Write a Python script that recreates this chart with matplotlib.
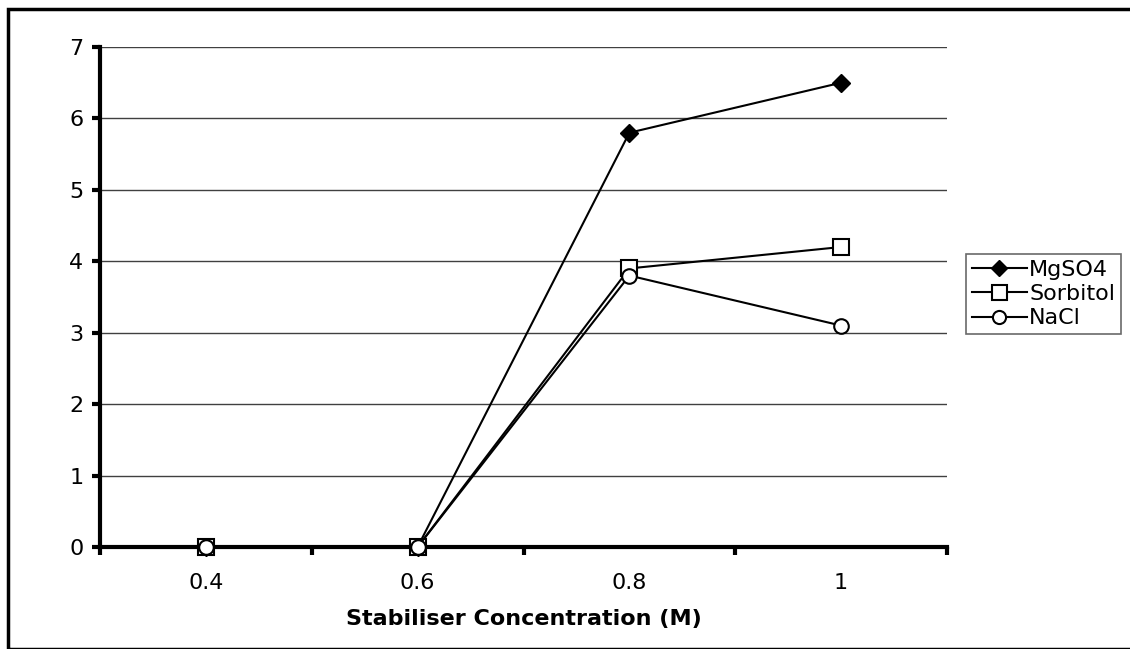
import matplotlib
matplotlib.use("Agg")
import matplotlib.pyplot as plt
from matplotlib.patches import Rectangle

categories = ["0.4", "0.6", "0.8", "1"]
mgso4 = [0, 0, 5.8, 6.5]
sorbitol = [0, 0, 3.9, 4.2]
nacl = [0, 0, 3.8, 3.1]
yticks = [0, 1, 2, 3, 4, 5, 6, 7]

FS = 16
plt.rcParams['font.family'] = ['DejaVu Sans']
fig = plt.figure(figsize=(11.3, 6.49), dpi=100)
ax = fig.add_axes([100/1130, 1-547/649, 847/1130, 500/649])

x = list(range(len(categories)))
ax.plot(x, mgso4, color='black', lw=1.5, marker='D', ms=9, mfc='black', mec='black',
        label='MgSO4', zorder=6, clip_on=False)
ax.plot(x, sorbitol, color='black', lw=1.5, marker='s', ms=12, mfc='white', mec='black', mew=1.5,
        label='Sorbitol', zorder=7, clip_on=False)
ax.plot(x, nacl, color='black', lw=1.5, marker='o', ms=10.5, mfc='white', mec='black', mew=1.5,
        label='NaCl', zorder=8, clip_on=False)

ax.set_xlim(-0.5, len(categories) - 0.5)
ax.set_ylim(0, 7)
ax.set_yticks(yticks)
ax.set_yticklabels([str(v) for v in yticks])
ax.yaxis.grid(True, color='#404040', lw=1)
ax.set_axisbelow(True)

ax.set_xticks(x)
ax.set_xticklabels(categories)
ax.set_xticks([i - 0.5 for i in range(len(categories) + 1)], minor=True)
ax.tick_params(axis='x', which='major', length=0, pad=19, labelsize=FS)
ax.tick_params(axis='x', which='minor', length=6, width=3, direction='out')
ax.tick_params(axis='y', length=6, width=3, direction='out', labelsize=FS, pad=6)

for s in ['top', 'right']:
    ax.spines[s].set_visible(False)
for s in ['left', 'bottom']:
    ax.spines[s].set_linewidth(3)
ax.spines['bottom'].set_zorder(5)

ax.set_xlabel("Stabiliser Concentration (M)", fontsize=FS, fontweight='bold', labelpad=11)

leg = ax.legend(loc='center left', bbox_to_anchor=(966/1130, 1-294/649), bbox_transform=fig.transFigure,
                frameon=True, fancybox=False, edgecolor='#444444', fontsize=FS,
                handlelength=2.5, handletextpad=0.1, borderpad=0.25, labelspacing=0.2,
                borderaxespad=0, markerscale=0.9)
leg.get_frame().set_linewidth(1.2)

fig.patches.append(Rectangle((8/1130, 0), 1.2, 1 - 9/649, transform=fig.transFigure,
                             fill=False, edgecolor='black', lw=2.5, zorder=10))

fig.savefig("out.png", dpi=100)
